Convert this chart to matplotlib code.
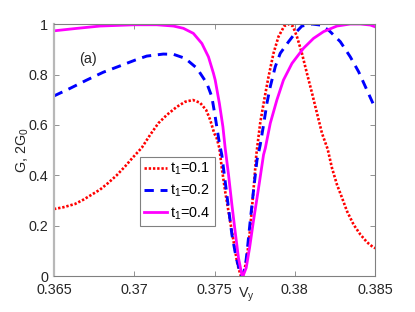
import matplotlib
matplotlib.use('Agg')
import matplotlib.pyplot as plt

plt.rcParams['font.family'] = ['Liberation Sans', 'DejaVu Sans']
plt.rcParams['mathtext.default'] = 'regular'

# t1 = 0.1 (red dotted)
v_r = [0.365, 0.36558, 0.36631, 0.36683, 0.36735, 0.36787, 0.36839, 0.36891, 0.36943,
       0.36988, 0.37047, 0.37098, 0.37150, 0.37203, 0.37265, 0.37317, 0.37365, 0.37410,
       0.37448, 0.37473, 0.37498, 0.37514, 0.37530, 0.37545, 0.37566, 0.37597, 0.37622,
       0.37643, 0.37664, 0.37680, 0.37701, 0.37718, 0.37733, 0.37747, 0.37760, 0.37784,
       0.37809, 0.37836, 0.37867, 0.37898, 0.37934, 0.37963, 0.37988, 0.38013, 0.38044,
       0.38075, 0.38107, 0.38138, 0.38169, 0.38204, 0.38231, 0.38262, 0.38294, 0.38325,
       0.38366, 0.38408, 0.38450, 0.38487, 0.385]
g_r = [0.267, 0.274, 0.287, 0.304, 0.324, 0.344, 0.371, 0.401, 0.436,
       0.469, 0.510, 0.560, 0.607, 0.640, 0.672, 0.692, 0.699, 0.688,
       0.659, 0.620, 0.567, 0.547, 0.508, 0.430, 0.337, 0.219, 0.126,
       0.047, 0.001, 0.007, 0.073, 0.166, 0.271, 0.377, 0.482, 0.607,
       0.699, 0.791, 0.884, 0.950, 0.992, 1.0, 0.991, 0.950, 0.884,
       0.805, 0.726, 0.646, 0.567, 0.505, 0.430, 0.364, 0.311, 0.258,
       0.205, 0.166, 0.135, 0.116, 0.112]

# t1 = 0.2 (blue dashed)
v_b = [0.365, 0.36600, 0.36704, 0.36807, 0.36911, 0.37005, 0.37078, 0.37181, 0.37244,
       0.37317, 0.37390, 0.37452, 0.37483, 0.37504, 0.37530, 0.37545, 0.37566, 0.37587,
       0.37608, 0.37635, 0.37660, 0.37670, 0.37691, 0.37705, 0.37722, 0.37742, 0.37764,
       0.37784, 0.37805, 0.37826, 0.37847, 0.37878, 0.37909, 0.37961, 0.38002, 0.38044,
       0.38107, 0.38158, 0.38210, 0.38283, 0.38345, 0.38397, 0.38439, 0.38491, 0.385]
g_b = [0.715, 0.745, 0.778, 0.809, 0.834, 0.857, 0.873, 0.881, 0.880,
       0.864, 0.825, 0.765, 0.712, 0.633, 0.528, 0.482, 0.377, 0.271,
       0.166, 0.073, 0.014, 0.0, 0.034, 0.113, 0.219, 0.337, 0.460,
       0.520, 0.600, 0.686, 0.752, 0.831, 0.884, 0.930, 0.964, 0.992,
       1.0, 0.996, 0.976, 0.930, 0.870, 0.811, 0.752, 0.679, 0.668]

# t1 = 0.4 (magenta solid)
v_m = [0.365, 0.36631, 0.36787, 0.37, 0.37140, 0.37244, 0.37306, 0.37368, 0.37421,
       0.37462, 0.37493, 0.37504, 0.37530, 0.37552, 0.37566, 0.37587, 0.37608, 0.37628,
       0.37649, 0.37670, 0.37676, 0.37697, 0.37718, 0.37742, 0.37774, 0.37805, 0.37816,
       0.37847, 0.37888, 0.37929, 0.37982, 0.38013, 0.38054, 0.38116, 0.38179, 0.38262,
       0.38345, 0.38408, 0.38470, 0.385]
g_m = [0.973, 0.982, 0.992, 0.997, 0.997, 0.992, 0.983, 0.963, 0.923,
       0.870, 0.805, 0.778, 0.686, 0.593, 0.509, 0.403, 0.284, 0.179,
       0.073, 0.007, 0.0, 0.034, 0.113, 0.219, 0.350, 0.482, 0.508,
       0.607, 0.699, 0.778, 0.844, 0.870, 0.904, 0.943, 0.970, 0.992,
       1.0, 1.0, 0.996, 0.989]

labels = ['t$_1$=0.1', 't$_1$=0.2', 't$_1$=0.4']
xticks = [0.365, 0.37, 0.375, 0.38, 0.385]
xticklabels = ['0.365', '0.37', '0.375', '0.38', '0.385']
yticks = [0, 0.2, 0.4, 0.6, 0.8, 1]
yticklabels = ['0', '0.2', '0.4', '0.6', '0.8', '1']

fig = plt.figure(figsize=(4.15, 3.12), dpi=100)
ax = fig.add_axes([0.130, 0.114, 0.774, 0.809])

ax.plot(v_r, g_r, color='red', lw=1.9, linestyle=(0, (0.9, 0.7)), label=labels[0])
ax.plot(v_b, g_b, color='blue', lw=2.1, linestyle=(0, (3.2, 2.3)), label=labels[1])
ax.plot(v_m, g_m, color='magenta', lw=2.0, linestyle='-', label=labels[2])

ax.set_xlim(0.365, 0.385)
ax.set_ylim(0, 1)
ax.set_xticks(xticks)
ax.set_xticklabels(xticklabels)
ax.set_yticks(yticks)
ax.set_yticklabels(yticklabels)
ax.tick_params(direction='in', length=3.5, width=0.6, color='#808080',
               labelsize=10.4, labelcolor='#262626', top=True, right=True)
ax.tick_params(axis='x', pad=5)
ax.tick_params(axis='y', pad=4)

for s in ['top', 'right', 'bottom']:
    ax.spines[s].set_color('#808080')
    ax.spines[s].set_linewidth(0.8)
ax.spines['left'].set_color('#b8b8b8')
ax.spines['left'].set_linewidth(1.6)

ax.set_ylabel('G, 2G$_0$', fontsize=10.4, color='#262626')
ax.yaxis.set_label_coords(-0.07, 0.5)
ax.text(0.60, -0.035, 'V$_y$', transform=ax.transAxes, ha='center', va='top',
        fontsize=10.4, color='#262626')
ax.text(0.36712, 0.861, '(a)', ha='center', va='center', fontsize=10.4, color='#262626')

leg = ax.legend(loc='upper left', bbox_to_anchor=(0.268, 0.475), fontsize=10.4,
                frameon=True, fancybox=False, framealpha=1, edgecolor='#808080',
                handlelength=1.6, handletextpad=0.2, labelspacing=0.4,
                borderpad=0.3, borderaxespad=0)
leg.get_frame().set_linewidth(0.8)

fig.savefig('out.png', dpi=100)
